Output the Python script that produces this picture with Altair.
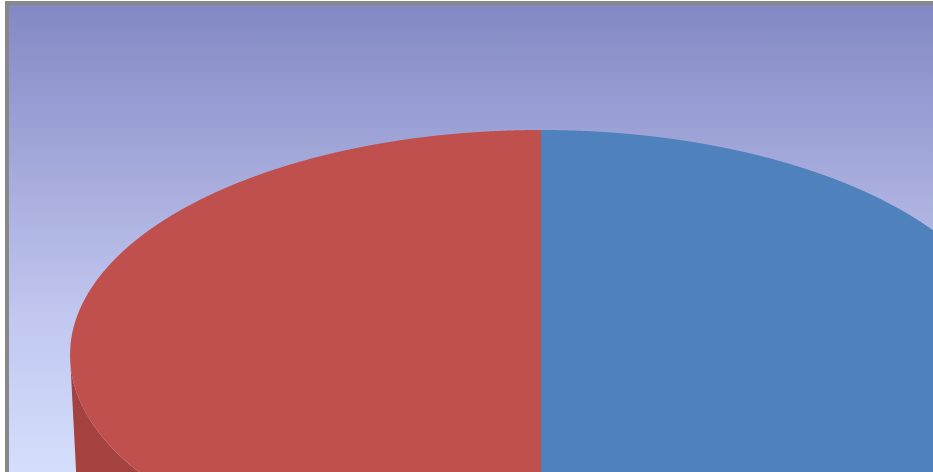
import altair as alt
import pandas as pd

# Pie data (two slices, top half visible)
categories = ["Series A", "Series B"]
values = [50, 50]
top_colors = ["#4F81BD", "#C0504D"]
side_colors = ["#3F6C9E", "#A3423F"]

W, H = 933, 472
# ellipse geometry (unit ellipse -> pixels through the scales)
CX, CY, RX, RY = 541, 355, 471, 225
x_domain = [-CX / RX, (W - CX) / RX]
y_domain = [(CY - H) / RY, CY / RY]
DEPTH = 0.6
SHRINK = 0.985

xs = alt.X("t:Q", scale=alt.Scale(domain=x_domain, nice=False, zero=False), axis=None)


def yenc(field):
    return alt.Y(field, type="quantitative", scale=alt.Scale(domain=y_domain, nice=False, zero=False), axis=None, stack=None)


total = sum(values)
layers = []
one = pd.DataFrame({"a": [0]})

bg = alt.Chart(one).mark_rect(
    fill=alt.LinearGradient(
        gradient="linear", x1=0, x2=0, y1=0, y2=1,
        stops=[alt.GradientStop(color="#8288C3", offset=0),
               alt.GradientStop(color="#A3A8DA", offset=0.32),
               alt.GradientStop(color="#C1C7EF", offset=0.64),
               alt.GradientStop(color="#D7E1FD", offset=1)]),
).encode(x=alt.value(7), x2=alt.value(W + 20), y=alt.value(3), y2=alt.value(H + 20))
layers.append(bg)

color_scale_top = alt.Scale(domain=categories, range=top_colors)
color_scale_side = alt.Scale(domain=categories, range=side_colors)

bounds = []
cum = 0
for v in values:
    start = cum / total
    cum += v
    end = cum / total
    bounds.append((start, end))

for i, cat in enumerate(categories):
    start, end = bounds[i]
    # first half of the pie clockwise from 12 o'clock lies on the right
    lo, hi = (0, 1) if start < 0.5 else (-1, 0)
    seq = alt.sequence(start=lo, stop=hi + 0.0005, step=0.001, as_="t")
    side = alt.Chart(seq).transform_calculate(
        t="clamp(datum.t, -1, 1)"
    ).transform_calculate(
        slice=f"'{cat}'",
        ytop=f"-sqrt(max(0, 1 - datum.t*datum.t))",
        ybot=(f"abs(datum.t) > {SHRINK} ? -{DEPTH} * (1 - abs(datum.t)) / (1 - {SHRINK}) "
              f": -{DEPTH} - {SHRINK} * sqrt(max(0, 1 - (datum.t/{SHRINK})*(datum.t/{SHRINK})))"),
    ).mark_area(interpolate="linear").encode(
        x=xs, y=yenc("ytop"), y2="ybot:Q",
        color=alt.Color("slice:N", scale=color_scale_side, legend=None),
    )
    layers.append(side)

for i, cat in enumerate(categories):
    start, end = bounds[i]
    lo, hi = (0, 1) if start < 0.5 else (-1, 0)
    seq = alt.sequence(start=lo, stop=hi + 0.0005, step=0.001, as_="t")
    top = alt.Chart(seq).transform_calculate(
        t="clamp(datum.t, -1, 1)"
    ).transform_calculate(
        slice=f"'{cat}'",
        yup="sqrt(max(0, 1 - datum.t*datum.t))",
        ydn="-sqrt(max(0, 1 - datum.t*datum.t))",
    ).mark_area(interpolate="linear").encode(
        x=xs, y=yenc("yup"), y2="ydn:Q",
        color=alt.Color("slice:N", scale=color_scale_top, legend=None),
    )
    layers.append(top)

border = alt.Chart(one).mark_rect(filled=False, stroke="#888888", strokeWidth=4).encode(
    x=alt.value(7), x2=alt.value(W + 40), y=alt.value(3), y2=alt.value(H + 40)
)
layers.append(border)

chart = alt.layer(*layers).resolve_scale(color="independent").properties(
    width=W, height=H, padding=0, autosize=alt.AutoSizeParams(type="none"),
    background="white",
).configure_view(stroke=None)

chart.save("out.html", embed_options={"renderer": "svg", "actions": False})
